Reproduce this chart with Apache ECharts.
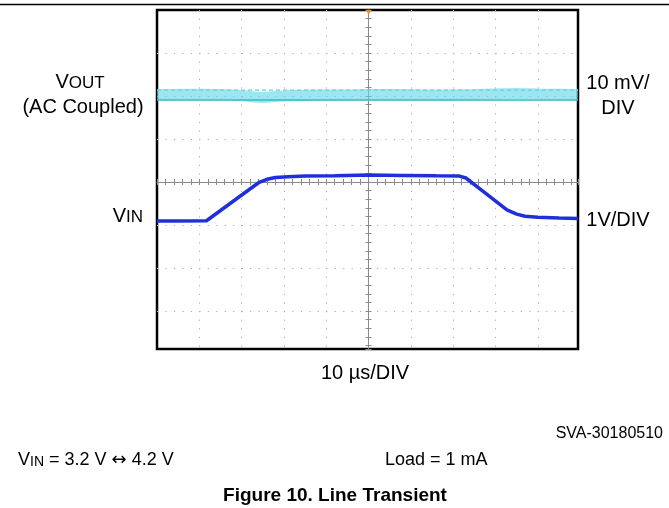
<!DOCTYPE html>
<html>
<head>
<meta charset="utf-8">
<script src="https://cdn.jsdelivr.net/npm/echarts@6/dist/echarts.min.js"></script>
<style>
html,body{margin:0;padding:0;background:#fff;}
#chart{width:669px;height:508px;}
</style>
</head>
<body>
<div id="chart"></div>
<script>
// ---- data ----
// V_IN trace: time (µs) and volts (1 V/DIV)
const vinTime  = [0, 5, 11.7, 18, 24, 26, 28, 31, 35, 42, 50, 58, 66, 71.5, 73, 78, 82.7, 85, 87, 90, 95, 99.5];
const vinVolts = [3.20, 3.20, 3.205, 3.66, 4.09, 4.17, 4.21, 4.23, 4.245, 4.255, 4.27, 4.26, 4.25, 4.245, 4.20, 3.82, 3.46, 3.36, 3.31, 3.285, 3.27, 3.26];
// V_OUT trace (AC coupled): time (µs) and millivolts (10 mV/DIV)
const voutTime = [0, 10, 15, 20, 23, 25, 28, 32, 38, 45, 50, 55, 62, 70, 75, 80, 85, 90, 95, 99.5];
const voutMv   = [0.1, 0.2, 0.1, -0.1, -0.45, -0.6, -0.35, -0.1, 0, 0, 0.1, 0.1, 0.05, 0, 0.1, 0.25, 0.35, 0.25, 0.2, 0.1];
const voutEnvTime = [0, 99.5];
const voutUpperMv = [1.15, 1.15];
const voutLowerMv = [-1.15, -1.15];
// text
const leftLabels  = [['V', 'OUT'], '(AC Coupled)', ['V', 'IN']];
const rightLabels = ['10 mV/', 'DIV', '1V/DIV'];
const xAxisName = '10 µs/DIV';
const codeText = 'SVA-30180510';
const conditionVin = ['V', 'IN', ' = 3.2 V ', '↔', ' 4.2 V'];
const conditionLoad = 'Load = 1 mA';
const figureTitle = 'Figure 10. Line Transient';

const FONT = '"Liberation Sans", Arial, Helvetica, sans-serif';
const pairs = (xs, ys) => xs.map((x, i) => [x, ys[i]]);

const chart = echarts.init(document.getElementById('chart'), null, {renderer: 'canvas'});

const dotted = (dash) => ({show: true, lineStyle: {color: '#ababab', width: 1, type: dash}});
const hidden = {axisLine: {show: false}, axisTick: {show: false}, axisLabel: {show: false}, splitLine: {show: false}};

const X_MAX = 99.5;   // plot width in µs (10 µs per division)
const Y_MAX = 7.88;   // plot height in divisions

const crossX = (inside, line) => ({
  type: 'value', min: 0, max: X_MAX, interval: 10, position: 'top', offset: -172,
  axisLine: {show: line, lineStyle: {color: '#8a8a8a', width: 1}},
  axisTick: {show: true, inside: inside, length: 3, lineStyle: {color: '#8a8a8a'}},
  minorTick: {show: true, splitNumber: 5, length: 3, lineStyle: {color: '#8a8a8a'}},
  axisLabel: {show: false}, splitLine: {show: false}
});
const crossY = (inside, line) => ({
  type: 'value', min: 0, max: Y_MAX, interval: 1, inverse: true, position: 'left', offset: -211.5,
  axisLine: {show: line, lineStyle: {color: '#8a8a8a', width: 1}},
  axisTick: {show: true, inside: inside, length: 3, lineStyle: {color: '#8a8a8a'}},
  minorTick: {show: true, splitNumber: 5, length: 3, lineStyle: {color: '#8a8a8a'}},
  axisLabel: {show: false}, splitLine: {show: false}
});

const subRich = (big, small, dy) => ({
  v: {fontSize: big, fontFamily: FONT, fill: '#000', lineHeight: big, verticalAlign: 'bottom'},
  s: {fontSize: small, fontFamily: FONT, fill: '#000', lineHeight: big - dy * 2, verticalAlign: 'bottom'},
  a: {fontSize: big, fontFamily: '"DejaVu Sans", sans-serif', fill: '#000', lineHeight: big, verticalAlign: 'bottom'}
});

const option = {
  animation: false,
  backgroundColor: '#ffffff',
  grid: {left: 157, top: 10, width: 421, height: 339, show: true, borderColor: '#000', borderWidth: 2.5, backgroundColor: 'transparent'},
  xAxis: [
    Object.assign({type: 'value', min: 0, max: X_MAX, interval: 10}, hidden,
      {splitLine: Object.assign(dotted([1.2, 7.4]), {showMinLine: false, showMaxLine: false})}),
    crossX(false, true),
    crossX(true, false)
  ],
  yAxis: [
    Object.assign({type: 'value', min: 0, max: Y_MAX, interval: 1, inverse: true}, hidden,
      {splitLine: Object.assign(dotted([1.2, 7.26]), {showMinLine: false, showMaxLine: false})}),
    crossY(false, true),
    crossY(true, false),
    Object.assign({type: 'value', min: 3.2 - 128 / 43, max: 3.2 + 211 / 43}, hidden),
    Object.assign({type: 'value', min: -254 / 4.3, max: 85 / 4.3}, hidden)
  ],
  series: [
    {name: 'VOUT band', type: 'line', xAxisIndex: 0, yAxisIndex: 4, data: pairs(voutTime, voutMv),
     symbol: 'none', lineStyle: {width: 11, color: 'rgba(95,215,232,0.62)'}, z: 3, silent: true},
    {name: 'VOUT upper', type: 'line', xAxisIndex: 0, yAxisIndex: 4, data: pairs(voutEnvTime, voutUpperMv),
     symbol: 'none', lineStyle: {width: 1.2, color: '#6fcdd6', type: [4, 3]}, z: 4, silent: true},
    {name: 'VOUT lower', type: 'line', xAxisIndex: 0, yAxisIndex: 4, data: pairs(voutEnvTime, voutLowerMv),
     symbol: 'none', lineStyle: {width: 1.5, color: '#36bac5'}, z: 4, silent: true},
    {name: 'VIN', type: 'line', xAxisIndex: 0, yAxisIndex: 3, data: pairs(vinTime, vinVolts),
     symbol: 'none', lineStyle: {width: 3.5, color: '#1f2fdc'}, z: 5, silent: true,
     markPoint: {symbol: 'triangle', symbolSize: [6, 5], symbolRotate: 180, silent: true,
       itemStyle: {color: '#f08a24'}, label: {show: false},
       data: [{coord: [50, 8.1], symbolOffset: [0, 2]}]}}
  ],
  graphic: [
    {type: 'line', shape: {x1: 0, y1: 4.5, x2: 669, y2: 4.5}, style: {stroke: '#000', lineWidth: 1.4}},
    {type: 'text', x: 80, y: 82, style: {text: '{v|' + leftLabels[0][0] + '}{s|' + leftLabels[0][1] + '}', textAlign: 'center', textVerticalAlign: 'middle',
      rich: subRich(20, 17, 4)}},
    {type: 'text', x: 83, y: 107, style: {text: leftLabels[1], font: '20px ' + FONT, fill: '#000', textAlign: 'center', textVerticalAlign: 'middle'}},
    {type: 'text', x: 143, y: 216, style: {text: '{v|' + leftLabels[2][0] + '}{s|' + leftLabels[2][1] + '}', textAlign: 'right', textVerticalAlign: 'middle',
      rich: subRich(20, 17, 4)}},
    {type: 'text', x: 618, y: 83, style: {text: rightLabels[0], font: '20px ' + FONT, fill: '#000', textAlign: 'center', textVerticalAlign: 'middle'}},
    {type: 'text', x: 618, y: 108, style: {text: rightLabels[1], font: '20px ' + FONT, fill: '#000', textAlign: 'center', textVerticalAlign: 'middle'}},
    {type: 'text', x: 618, y: 220, style: {text: rightLabels[2], font: '20px ' + FONT, fill: '#000', textAlign: 'center', textVerticalAlign: 'middle'}},
    {type: 'text', x: 365, y: 373, style: {text: xAxisName, font: '20px ' + FONT, fill: '#000', textAlign: 'center', textVerticalAlign: 'middle'}},
    {type: 'text', x: 663, y: 434, style: {text: codeText, font: '16px ' + FONT, fill: '#000', textAlign: 'right', textVerticalAlign: 'middle'}},
    {type: 'text', x: 18, y: 460, style: {text: '{v|' + conditionVin[0] + '}{s|' + conditionVin[1] + '}{v|' + conditionVin[2] + '}{a|' + conditionVin[3] + '}{v|' + conditionVin[4] + '}',
      textAlign: 'left', textVerticalAlign: 'middle', rich: subRich(18, 14, 3)}},
    {type: 'text', x: 385, y: 460, style: {text: conditionLoad, font: '18px ' + FONT, fill: '#000', textAlign: 'left', textVerticalAlign: 'middle'}},
    {type: 'text', x: 335, y: 496, style: {text: figureTitle, font: 'bold 19px ' + FONT, fill: '#000', textAlign: 'center', textVerticalAlign: 'middle'}}
  ]
};
chart.setOption(option);
</script>
</body>
</html>
